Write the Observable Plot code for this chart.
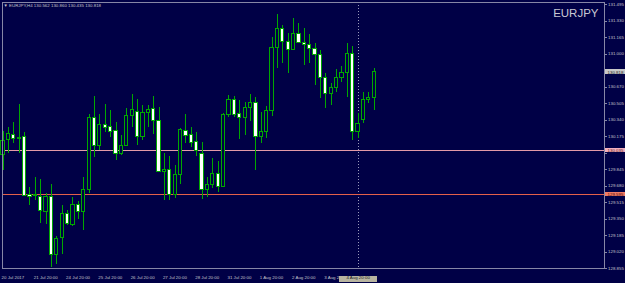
<!DOCTYPE html>
<html>
<head>
<meta charset="utf-8">
<script src="https://cdn.jsdelivr.net/npm/d3@7"></script>
<script src="https://cdn.jsdelivr.net/npm/@observablehq/plot@0.6"></script>
<style>
  html, body { margin: 0; padding: 0; background: #000046; }
  svg { display: block; }
</style>
</head>
<body>
<div id="chart"></div>
<script>
// EURJPY H4 candles (index 0 = 20 Jul 2017 20:00)
const open  = [129.995,130.145,130.195,130.155,130.175,129.595,129.585,129.575,129.425,129.575,
               128.995,129.165,129.405,129.295,129.495,129.425,129.645,130.365,130.085,130.295,
               130.275,130.235,130.005,130.085,130.385,130.425,130.175,130.415,130.455,130.335,
               129.825,129.845,129.595,129.795,130.235,130.195,130.125,130.005,129.645,129.695,
               129.805,129.675,130.395,130.545,130.405,130.365,130.465,130.515,130.175,130.225,
               130.435,131.065,131.255,131.125,131.045,131.205,131.115,131.095,131.055,130.995,
               130.765,130.605,130.665,130.765,130.815,131.005,130.225,130.345,130.545,130.562];
const high  = [130.225,130.265,130.315,130.495,130.215,129.665,129.765,129.745,129.605,129.695,
               129.175,129.485,129.435,129.565,129.525,129.765,130.395,130.575,130.395,130.495,
               130.435,130.315,130.185,130.455,130.595,130.545,130.485,130.485,130.575,130.465,
               130.005,129.975,129.885,130.255,130.395,130.265,130.215,130.115,129.765,129.955,
               129.925,130.405,130.585,130.575,130.535,130.515,130.595,130.565,130.415,130.475,
               131.165,131.395,131.285,131.205,131.355,131.305,131.255,131.195,131.105,131.035,
               130.805,130.705,130.845,130.875,131.105,131.075,130.405,130.615,130.615,130.860];
const low   = [129.835,130.005,130.105,130.005,129.585,129.485,129.535,129.305,129.295,128.865,
               128.895,128.995,129.285,129.275,129.345,129.235,129.605,129.965,130.035,130.215,
               130.165,129.935,129.985,130.075,130.265,130.085,130.135,130.265,130.195,129.825,
               129.535,129.535,129.555,129.695,130.105,130.065,129.975,129.545,129.565,129.655,
               129.615,129.665,130.365,130.365,130.145,130.185,130.325,129.835,130.105,130.155,
               130.375,130.855,130.905,130.805,131.035,131.105,130.885,130.905,130.685,130.555,
               130.455,130.485,130.615,130.715,130.565,130.135,130.155,130.305,130.505,130.435];
const close = [130.135,130.205,130.155,130.165,129.585,129.575,129.595,129.435,129.575,128.995,
               129.155,129.405,129.305,129.495,129.425,129.645,130.365,130.085,130.295,130.265,
               130.225,130.005,130.085,130.385,130.445,130.175,130.415,130.445,130.335,129.825,
               129.845,129.595,129.795,130.245,130.185,130.115,130.035,129.645,129.695,129.805,
               129.675,130.395,130.545,130.395,130.365,130.465,130.515,130.175,130.225,130.435,
               131.065,131.255,131.125,131.045,131.205,131.115,131.095,131.055,130.995,130.765,
               130.605,130.665,130.765,130.815,131.005,130.225,130.305,130.545,130.565,130.818];

const xTickIndex  = [0, 6, 12, 18, 24, 30, 36, 42, 48, 54, 60];
const xTickLabels = ["20 Jul 2017","21 Jul 20:00","24 Jul 20:00","25 Jul 20:00","26 Jul 20:00",
                     "27 Jul 20:00","28 Jul 20:00","31 Jul 20:00","1 Aug 20:00","2 Aug 20:00","3 Aug 20:00"];
const yTicks = [128.855,129.020,129.185,129.350,129.515,129.680,129.845,130.010,130.175,
                130.340,130.505,130.670,130.835,131.000,131.165,131.330,131.495];
const levelLines  = [130.035, 129.595];
const levelColors = ["#e39aa8", "#e2604a"];
const levelBoxes  = ["#f2b0bf", "#f07a64"];
const cursorIndex = [66];
const cursorLabel = ["4 Aug 20:00"];
const symbol = "EURJPY";
const header = "\u25BC EURJPY,H4 130.562 130.860 130.435 130.818";

const BG = "#000046";
const GREEN = "#00a800";
const AXIS = "#8686a6";
const TXT = "#c4c4cc";
const FS = 4.4;

const xDomain = [-0.1, 111.8];
const yDomain = [128.855, 131.515];
const pxPerX = (625 - 2 - 21) / (xDomain[1] - xDomain[0]);
const pxPerY = (283 - 2 - 15) / (yDomain[1] - yDomain[0]);

const candles = open.map((o, i) => ({i, o, h: high[i], l: low[i], c: close[i]}));
const bears = candles.filter(d => d.c < d.o);
const bulls = candles.filter(d => d.c >= d.o);
const last = candles[candles.length - 1];
const fmt = d3.format(".3f");

// price boxes on the right axis
const priceBoxes = [
  {p: levelLines[0], fill: levelBoxes[0], ink: "#5a1010"},
  {p: levelLines[1], fill: levelBoxes[1], ink: "#4a0808"},
  {p: last.c, fill: "#c8c8c8", ink: "#202020"}
];
const boxH = 4.6 / pxPerY / 2;
const covered = yTicks.filter(t => priceBoxes.some(b => Math.abs(b.p - t) < 0.05));
const labelTicks = yTicks.filter(t => !covered.includes(t));

const chart = Plot.plot({
  width: 625, height: 283,
  marginLeft: 2, marginRight: 21, marginTop: 2, marginBottom: 15,
  style: {background: BG, fontFamily: "Liberation Sans, Arial, sans-serif", overflow: "visible"},
  x: {domain: xDomain, axis: null},
  y: {domain: yDomain, axis: null},
  marks: [
    Plot.ruleX(cursorIndex, {x: d => d, stroke: "#9a9aba", strokeDasharray: "1,2"}),
    Plot.ruleY([levelLines[0]], {y: d => d, stroke: levelColors[0]}),
    Plot.ruleY([levelLines[1]], {y: d => d, stroke: levelColors[1]}),
    Plot.ruleX(candles, {x: "i", y1: "l", y2: "h", stroke: GREEN, strokeWidth: 1}),
    Plot.rect(bulls, {x1: d => d.i - 0.3, x2: d => d.i + 0.3, y1: "o", y2: "c", fill: BG, stroke: GREEN}),
    Plot.rect(bears, {x1: d => d.i - 0.3, x2: d => d.i + 0.3, y1: "o", y2: "c", fill: "#ffffff", stroke: GREEN}),
    Plot.frame({stroke: AXIS}),
    Plot.axisY({anchor: "right", ticks: yTicks, tickSize: 2, tickFormat: () => "", stroke: AXIS}),
    Plot.axisY({anchor: "right", ticks: labelTicks, tickSize: 2, tickPadding: 1.5, tickFormat: fmt,
                fill: TXT, stroke: AXIS, fontSize: FS}),
    Plot.text(xTickIndex, {x: d => d, text: (d, i) => xTickLabels[i], frameAnchor: "bottom",
                dy: 10.5, dx: -1.5, textAnchor: "start", fill: TXT, fontSize: FS}),
    Plot.text([header], {frameAnchor: "top-left", dx: 1, dy: 1.5, lineAnchor: "top",
                textAnchor: "start", fill: TXT, fontSize: FS}),
    Plot.text([symbol], {frameAnchor: "top-right", dx: -6, dy: 6, lineAnchor: "top",
                textAnchor: "end", fill: "#c8c8d4", fontSize: 11.5}),
    // boxes
    Plot.rect(priceBoxes, {x1: xDomain[1] + 1 / pxPerX, x2: xDomain[1] + 21 / pxPerX,
                y1: d => d.p - boxH, y2: d => d.p + boxH, fill: d => d.fill}),
    Plot.text(priceBoxes, {y: "p", text: d => fmt(d.p), frameAnchor: "right", dx: 3,
                textAnchor: "start", fill: d => d.ink, fontSize: FS}),
    Plot.rect(cursorIndex, {x1: d => d - 19 / pxPerX, x2: d => d + 19 / pxPerX,
                y1: yDomain[0] - 7.5 / pxPerY, y2: yDomain[0] - 13.5 / pxPerY, fill: "#b8b4a0"}),
    Plot.text(cursorIndex, {x: d => d, text: (d, i) => cursorLabel[i], frameAnchor: "bottom",
                dy: 10.5, textAnchor: "middle", fill: "#202020", fontSize: FS})
  ]
});
chart.style.shapeRendering = "crispEdges";
document.getElementById("chart").appendChild(chart);
</script>
</body>
</html>
